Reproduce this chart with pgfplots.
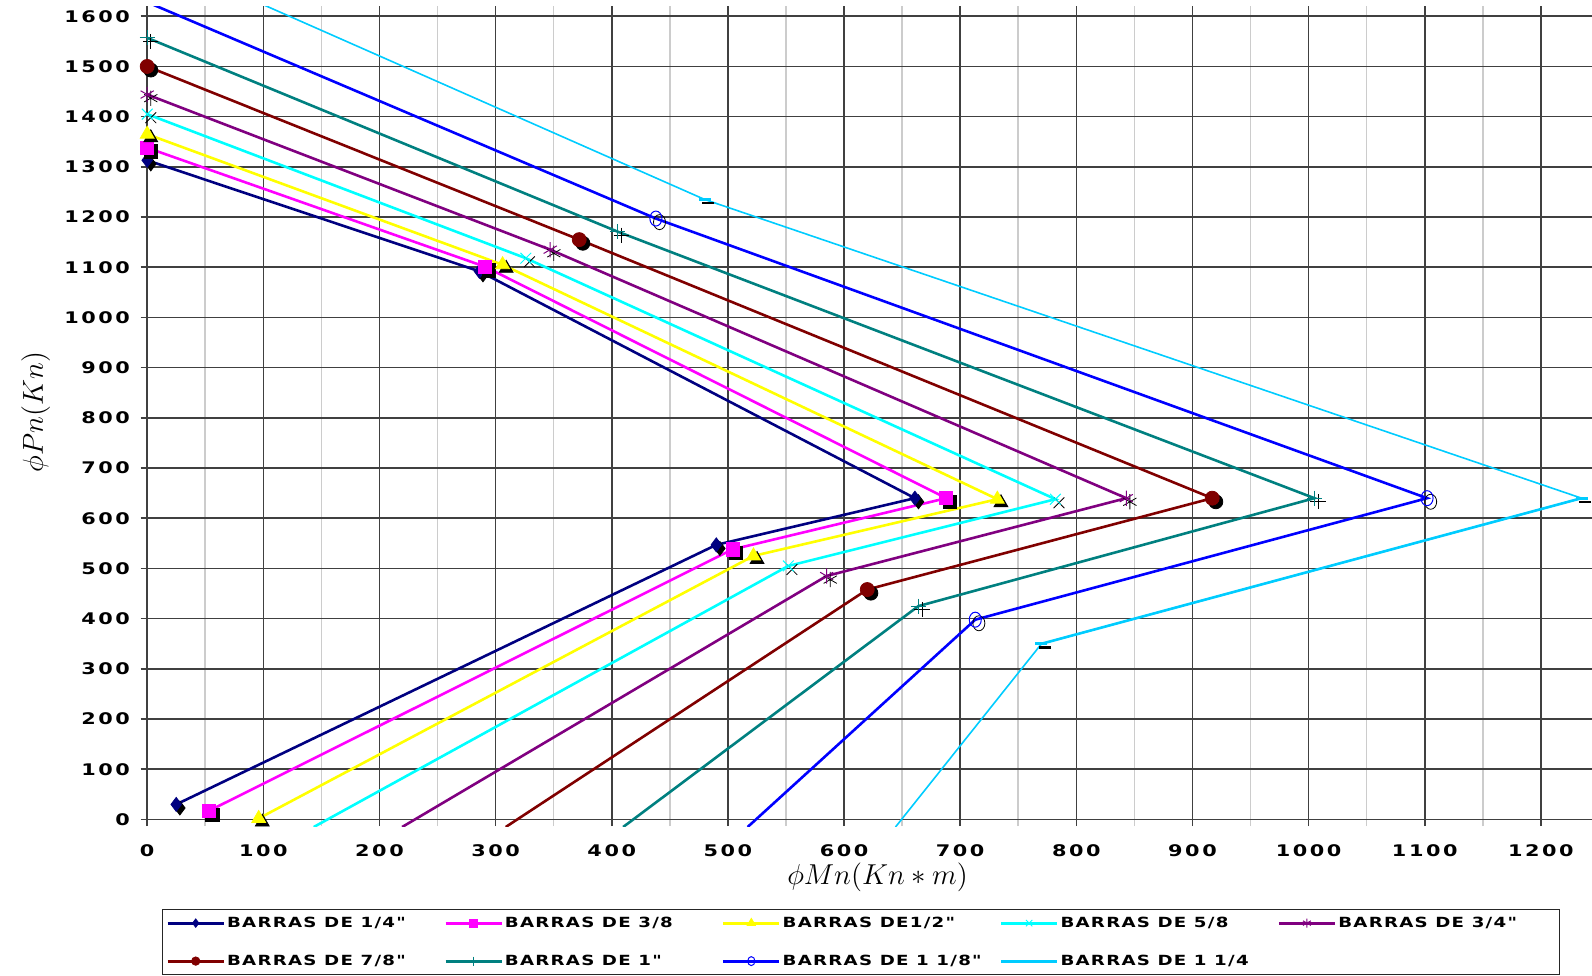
\documentclass[border=0pt]{standalone}
\usepackage{fontspec}
\usepackage{pgfplots}
\pgfplotsset{compat=1.18}
\newfontfamily\tickfont[FakeStretch=1.3,LetterSpace=16]{DejaVu Sans}
\newfontfamily\legfont[FakeStretch=1.3,LetterSpace=9]{DejaVu Sans}
\definecolor{cNavy}{HTML}{000080}
\definecolor{cMag}{HTML}{FF00FF}
\definecolor{cYel}{HTML}{FFFF00}
\definecolor{cCyan}{HTML}{00FFFF}
\definecolor{cPur}{HTML}{800080}
\definecolor{cMar}{HTML}{800000}
\definecolor{cTeal}{HTML}{008080}
\definecolor{cBlue}{HTML}{0000FF}
\definecolor{cSky}{HTML}{00CCFF}

\pgfplotstableread{
x y
0 1313
286 1092
661 640
490 547
25 30
}\tA
\pgfplotstableread{
x y
0 1338
291 1101
688 640
504 538
53 17
}\tB
\pgfplotstableread{
x y
0 1365
306 1105
732 638
522 525
96 2
}\tC
\pgfplotstableread{
x y
0 1405
326 1118
782 638
552 505
143.4 -15
}\tD
\pgfplotstableread{
x y
0 1444
347 1135
843 640
585 485
219.5 -15
}\tE
\pgfplotstableread{
x y
0 1500
372 1155
917 640
620 458
308.7 -15
}\tF
\pgfplotstableread{
x y
0 1557
405 1171
1005 640
664 425
409.8 -15
}\tG
\pgfplotstableread{
x y
0 1628
438 1197
1102 640
713 398
517 -15
}\tH
\pgfplotstableread{
x y
0 1725
480 1235
1235 640
770 350
644.3 -15
}\tI
\pgfplotstableread{
x y
770 350
1235 640
}\tIb

\newcommand{\LE}[1]{\makebox[107.5pt][l]{\legfont\bfseries\fontsize{7}{8}\selectfont #1}}

\begin{document}
\begin{tikzpicture}
\begin{axis}[
  scale only axis, width=722.4pt, height=409.9pt,
  xmin=0, xmax=1244, ymin=-13, ymax=1620,
  xtick={0,100,...,1200}, ytick={0,100,...,1600},
  minor xtick={50,150,...,1150},
  grid=both,
  major grid style={black!75, line width=0.8pt},
  minor grid style={black!20, line width=0.8pt},
  axis line style={draw=none},
  xtick style={draw=none}, minor tick length=0pt,
  ytick style={black!75, line width=0.8pt},
  tick align=outside, major tick length=3.3pt,
  ytick pos=left, xtick pos=bottom,
  tick label style={font=\tickfont\bfseries\fontsize{8}{9}\selectfont},
  /pgf/number format/assume math mode=true,
  /pgf/number format/1000 sep={},
  xticklabel style={yshift=-2.6pt},
  yticklabel style={xshift=-1.8pt},
  xlabel={\fontsize{14}{16}\selectfont$\phi Mn(Kn*m)$},
  ylabel={\fontsize{14}{16}\selectfont$\phi Pn(Kn)$},
  xlabel style={at={(axis description cs:0.5055,-0.063)}, anchor=center},
  ylabel style={at={(axis description cs:-0.0772,0.505)}, anchor=center},
  clip=true,
  legend columns=5,
  legend style={at={(axis description cs:0.0102,-0.1015)}, anchor=north west,
    draw=black!85, inner xsep=2pt, inner ysep=3pt,
    column sep=0pt, row sep=11.5pt,
    nodes={inner sep=1pt, text height=5pt, text depth=0.5pt, anchor=west, xshift=-3.5pt}},
  legend image code/.code={%
    \draw[#1, line width=1.4pt] (0pt,0pt) -- (28pt,0pt);
    \path[#1, every mark/.append style={scale=0.6}] plot coordinates {(14pt,0pt)};},
]
% 1/4
\addplot[forget plot, only marks, black, mark=diamond*, mark size=3.5pt, mark options={xshift=1.8pt,yshift=-1.8pt}] table {\tA};
\addplot[cNavy, line width=1.3pt, mark=diamond*, mark size=3.5pt, mark options={solid, fill=cNavy, line width=0.4pt}] table {\tA};
\addlegendentry{\LE{BARRAS DE 1/4"}}
% 3/8
\addplot[forget plot, only marks, black, mark=square*, mark size=3.3pt, mark options={xshift=1.8pt,yshift=-1.8pt}] table {\tB};
\addplot[cMag, line width=1.3pt, mark=square*, mark size=3.3pt, mark options={solid, fill=cMag, line width=0.4pt}] table {\tB};
\addlegendentry{\LE{BARRAS DE 3/8}}
% 1/2
\addplot[forget plot, only marks, black, mark=triangle*, mark size=4pt, mark options={xshift=1.8pt,yshift=-1.8pt}] table {\tC};
\addplot[cYel, line width=1.3pt, mark=triangle*, mark size=4pt, mark options={solid, fill=cYel, line width=0.4pt}] table {\tC};
\addlegendentry{\LE{BARRAS DE1/2"}}
% 5/8
\addplot[forget plot, only marks, black, mark=x, mark size=3.8pt, mark options={xshift=1.8pt,yshift=-1.8pt, line width=0.4pt}] table {\tD};
\addplot[cCyan, line width=1.3pt, mark=x, mark size=3.8pt, mark options={solid, line width=0.5pt}] table {\tD};
\addlegendentry{\LE{BARRAS DE 5/8}}
% 3/4
\addplot[forget plot, only marks, black, mark=asterisk, mark size=3.8pt, mark options={xshift=1.8pt,yshift=-1.8pt, line width=0.4pt}] table {\tE};
\addplot[cPur, line width=1.3pt, mark=asterisk, mark size=3.8pt, mark options={solid, line width=0.5pt}] table {\tE};
\addlegendentry{\LE{BARRAS DE 3/4"}}
% 7/8
\addplot[forget plot, only marks, black, mark=*, mark size=3.5pt, mark options={xshift=1.8pt,yshift=-1.8pt}] table {\tF};
\addplot[cMar, line width=1.3pt, mark=*, mark size=3.5pt, mark options={solid, fill=cMar, line width=0.4pt}] table {\tF};
\addlegendentry{\LE{BARRAS DE 7/8"}}
% 1
\addplot[forget plot, only marks, black, mark=+, mark size=3.8pt, mark options={xshift=1.8pt,yshift=-1.8pt, line width=0.4pt}] table {\tG};
\addplot[cTeal, line width=1.3pt, mark=+, mark size=3.8pt, mark options={solid, line width=0.5pt}] table {\tG};
\addlegendentry{\LE{BARRAS DE 1"}}
% 1 1/8
\addplot[forget plot, only marks, black, mark=o, mark size=3pt, mark options={xshift=1.8pt,yshift=-1.8pt, line width=0.4pt, yscale=1.25}] table {\tH};
\addplot[cBlue, line width=1.3pt, mark=o, mark size=3pt, mark options={solid, line width=0.5pt, yscale=1.25}] table {\tH};
\addlegendentry{\LE{BARRAS DE 1 1/8"}}
% 1 1/4
\addplot[forget plot, only marks, black, mark=-, mark size=3pt, mark options={xshift=1.8pt,yshift=-1.8pt, line width=1.2pt}] table {\tI};
\addplot[forget plot, cSky, line width=1.3pt] table {\tIb};
\addplot[cSky, line width=0.8pt, mark=-, mark size=3pt, mark options={solid, line width=1.5pt}] table {\tI};
\addlegendentry{\LE{BARRAS DE 1 1/4}}
\coordinate (sw) at (rel axis cs:0,0);
\coordinate (ne) at (rel axis cs:1,1);
\end{axis}
\pgfresetboundingbox
\path ([shift={(-73.6pt,-74.55pt)}]sw) rectangle ([shift={(0pt,3.1pt)}]ne);
\end{tikzpicture}
\end{document}
